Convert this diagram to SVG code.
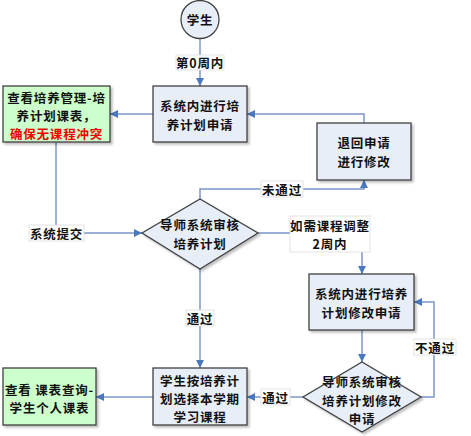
<svg xmlns="http://www.w3.org/2000/svg" width="471" height="436" viewBox="0 0 471 436">
<defs>
<marker id="ah" viewBox="0 0 10 10" refX="10" refY="5" markerWidth="8" markerHeight="8" markerUnits="userSpaceOnUse" orient="auto">
<path d="M0,0 L10,5 L0,10 z" fill="#4a78bf"/>
</marker>
<filter id="sh" x="-10%" y="-10%" width="130%" height="130%">
<feDropShadow dx="2" dy="2" stdDeviation="0.8" flood-color="#000" flood-opacity="0.25"/>
</filter>
</defs>
<style>
text{font-family:"Noto Sans CJK SC","Liberation Sans",sans-serif;font-size:12.5px;font-weight:bold;fill:#111;text-anchor:middle;dominant-baseline:central;letter-spacing:0.8px}
.box{fill:#e8eef8;stroke:#404040;stroke-width:1.3;filter:url(#sh)}
.gbox{fill:#ccffcc;stroke:#404040;stroke-width:1.3;filter:url(#sh)}
.c{fill:none;stroke:#7b97c6;stroke-width:1.5}
.lb{fill:#fff;stroke:#dddddd;stroke-width:0.8}
.red{fill:#ee0000}
</style>
<g id="connectors">
<path class="c" d="M200,39 V86" marker-end="url(#ah)"/>
<path class="c" d="M153,114 H110" marker-end="url(#ah)"/>
<path class="c" d="M364,123 V114 H247" marker-end="url(#ah)"/>
<path class="c" d="M200,199 V189 H364 V180" marker-end="url(#ah)"/>
<path class="c" d="M56,142 V233 H142" marker-end="url(#ah)"/>
<path class="c" d="M258,233 H362 V274" marker-end="url(#ah)"/>
<path class="c" d="M362,330 V362" marker-end="url(#ah)"/>
<path class="c" d="M421,397 H434 V302 H414" marker-end="url(#ah)"/>
<path class="c" d="M303,397 H247" marker-end="url(#ah)"/>
<path class="c" d="M200,269 V368" marker-end="url(#ah)"/>
<path class="c" d="M153,397 H96" marker-end="url(#ah)"/>
<rect class="lb" x="176" y="55" width="48" height="15"/>
<text x="200" y="62.5">第0周内</text>
<rect class="lb" x="261" y="181" width="42" height="16"/>
<text x="282" y="189">未通过</text>
<rect class="lb" x="29" y="225" width="55" height="16"/>
<text x="56.5" y="233">系统提交</text>
<rect class="lb" x="290" y="216" width="80" height="36"/>
<text x="330" y="225">如需课程调整</text>
<text x="330" y="243">2周内</text>
<rect class="lb" x="186" y="310" width="28" height="16"/>
<text x="200" y="318">通过</text>
<rect class="lb" x="414" y="339" width="42" height="16"/>
<text x="435" y="347">不通过</text>
<rect class="lb" x="261" y="389" width="29" height="16"/>
<text x="275.5" y="397">通过</text>
</g>
<g id="start">
<circle cx="200" cy="19.5" r="19" fill="#e8eef8" stroke="#404040" stroke-width="1.3"/>
<text x="200" y="19.5">学生</text>
</g>
<g id="apply">
<rect class="box" x="153" y="86" width="94" height="56"/>
<text x="200" y="105">系统内进行培</text>
<text x="200" y="124">养计划申请</text>
</g>
<g id="check-schedule">
<rect class="gbox" x="3" y="86" width="107" height="56"/>
<text x="56.5" y="97">查看培养管理-培</text>
<text x="56.5" y="115">养计划课表，</text>
<text x="56.5" y="133" class="red">确保无课程冲突</text>
</g>
<g id="return">
<rect class="box" x="317" y="123" width="94" height="57"/>
<text x="364" y="142">退回申请</text>
<text x="364" y="161">进行修改</text>
</g>
<g id="review1">
<polygon class="box" points="200,199 258,233 200,269 142,233"/>
<text x="200" y="224">导师系统审核</text>
<text x="200" y="243">培养计划</text>
</g>
<g id="modify">
<rect class="box" x="309" y="274" width="105" height="56"/>
<text x="361.5" y="293">系统内进行培养</text>
<text x="361.5" y="312">计划修改申请</text>
</g>
<g id="review2">
<polygon class="box" points="362,362 421,397 362,432 303,397"/>
<text x="362" y="381">导师系统审核</text>
<text x="362" y="400">培养计划修改</text>
<text x="362" y="418">申请</text>
</g>
<g id="select">
<rect class="box" x="153" y="368" width="94" height="57"/>
<text x="200" y="380">学生按培养计</text>
<text x="200" y="398">划选择本学期</text>
<text x="200" y="416">学习课程</text>
</g>
<g id="view-timetable">
<rect class="gbox" x="3" y="368" width="93" height="57"/>
<text x="49.5" y="389">查看 课表查询-</text>
<text x="49.5" y="407">学生个人课表</text>
</g>
</svg>
